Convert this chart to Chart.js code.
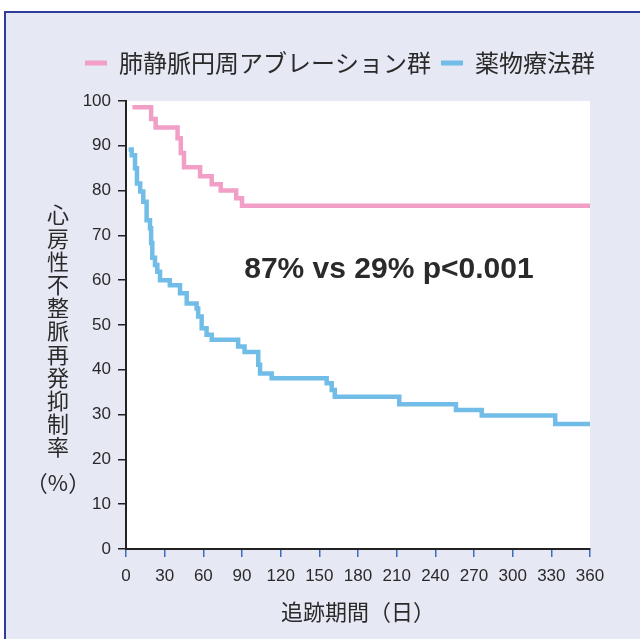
<!DOCTYPE html>
<html><head><meta charset="utf-8">
<script src="https://cdn.jsdelivr.net/npm/chart.js@4.4.0/dist/chart.umd.min.js"></script>
<style>
html,body{margin:0;padding:0;background:#fff;overflow:hidden;width:640px;height:639px;}
#frame{position:absolute;left:4px;top:11px;width:640px;height:640px;background:#e6e8f4;border-top:2px solid #2f3c98;border-left:2px solid #2f3c98;}
#wrap{position:absolute;left:0;top:0;width:640px;height:639px;}
</style></head><body>
<div id="frame"></div>
<div id="wrap"><canvas id="c"></canvas></div>
<script>
// ---- data ----
const seriesNames = ['肺静脈円周アブレーション群', '薬物療法群'];
const pvDays   = [5, 19.5, 23, 40, 42.5, 45, 57.5, 66.5, 73.5, 85.5, 90, 360];
const pvValues = [98.6, 96.0, 94.1, 91.7, 88.4, 85.2, 83.2, 81.4, 80.0, 78.3, 76.6, 76.6];
const drugDays   = [2, 4.4, 7, 8.5, 11, 13.4, 16, 18.6, 19.5, 20.4, 22.5, 24.3, 26.4, 34, 41.9, 47.1, 54.8, 56, 58.7, 62.5, 66.5, 87, 92, 102.6, 104, 113, 155.7, 159.6, 162, 212, 256, 276, 333, 360];
const drugValues = [89.2, 87.9, 85.0, 81.6, 79.8, 77.5, 73.4, 71.6, 68.3, 65.0, 63.4, 61.9, 60.0, 58.9, 57.1, 54.8, 53.7, 51.9, 49.3, 47.8, 46.7, 45.2, 44.0, 41.1, 39.2, 38.1, 37.0, 35.5, 34.0, 32.3, 31.0, 29.8, 27.9, 27.9];
const xTicks = [0, 30, 60, 90, 120, 150, 180, 210, 240, 270, 300, 330, 360];
const yTicks = [0, 10, 20, 30, 40, 50, 60, 70, 80, 90, 100];
const xTitle = '追跡期間（日）';
const yTitleChars = ['心','房','性','不','整','脈','再','発','抑','制','率'];
const yTitleUnit = '（%）';
const annotationText = '87% vs 29% p<0.001';
const annotationAt = {x: 204, y: 62.3};

const PINK = '#f29fc8';
const BLUE = '#72bde8';
const TXT = '#2a2a2a';
const NUMFONT = '"Liberation Sans", Arial, sans-serif';
const JPFONT = '"Noto Sans CJK JP", "Noto Sans", sans-serif';

const toPts = (xs, ys) => xs.map((x, i) => ({x: x, y: ys[i]}));

const plotBg = {
  id: 'plotBg',
  beforeLayout(chart) {
    const lg = chart.legend;
    if (lg && !lg._patched) {
      const orig = lg.fit;
      lg.fit = function () { orig.call(this); this.height = 60; };
      lg._patched = true;
    }
  },
  beforeDraw(chart) {
    const {ctx, chartArea: a} = chart;
    ctx.save();
    ctx.fillStyle = '#ffffff';
    ctx.fillRect(a.left, a.top, a.right - a.left, a.bottom - a.top);
    ctx.restore();
  },
  afterDatasetsDraw(chart) {
    const {ctx, scales} = chart;
    ctx.save();
    ctx.fillStyle = TXT;
    ctx.font = 'bold 30px "Liberation Sans", Arial, sans-serif';
    ctx.textAlign = 'center';
    ctx.textBaseline = 'middle';
    ctx.fillText(annotationText, scales.x.getPixelForValue(annotationAt.x), scales.y.getPixelForValue(annotationAt.y));
    ctx.restore();
  },
  afterDraw(chart) {
    const ctx = chart.ctx;
    ctx.save();
    ctx.fillStyle = TXT;
    ctx.font = '22px ' + JPFONT;
    ctx.textAlign = 'center';
    ctx.textBaseline = 'middle';
    const cx = 58, y0 = 215, step = 23.2;
    yTitleChars.forEach((ch, i) => ctx.fillText(ch, cx, y0 + i * step));
    ctx.fillText(yTitleUnit, cx, y0 + yTitleChars.length * step + 12);
    ctx.restore();
  }
};

new Chart(document.getElementById('c'), {
  type: 'line',
  data: {
    datasets: [
      {label: seriesNames[0], data: toPts(pvDays, pvValues), borderColor: PINK, backgroundColor: PINK,
       borderWidth: 4.5, pointRadius: 0, stepped: 'before', fill: false, xAxisID: 'x', yAxisID: 'y'},
      {label: seriesNames[1], data: toPts(drugDays, drugValues), borderColor: BLUE, backgroundColor: BLUE,
       borderWidth: 4.5, pointRadius: 0, stepped: 'before', fill: false, xAxisID: 'x', yAxisID: 'y'}
    ]
  },
  options: {
    responsive: true,
    maintainAspectRatio: false,
    animation: false,
    layout: {padding: {left: 40, right: 0, top: 41, bottom: 0}},
    plugins: {
      legend: {
        display: true,
        position: 'top',
        labels: {
          boxWidth: 22, boxHeight: 5, padding: 10, color: TXT, font: {family: JPFONT, size: 24},
          generateLabels(chart) {
            const items = Chart.defaults.plugins.legend.labels.generateLabels(chart);
            items.forEach(it => { it.lineWidth = 0; });
            return items;
          }
        }
      },
      tooltip: {enabled: false}
    },
    scales: {
      x: {
        type: 'linear', position: 'bottom', min: 0, max: 360,
        afterBuildTicks(s) { s.ticks = xTicks.map(v => ({value: v})); },
        afterFit(s) { s.height = 90; },
        ticks: {color: TXT, padding: 9, maxRotation: 0, autoSkip: false, font: {family: NUMFONT, size: 17}},
        grid: {display: true, drawOnChartArea: false, drawTicks: true, tickLength: 8, color: '#3a6cc0', lineWidth: 1.5},
        border: {display: true, color: '#222', width: 2},
        title: {display: true, text: xTitle, color: TXT, font: {family: JPFONT, size: 22}, padding: {top: 0, bottom: 14}}
      },
      y: {
        type: 'linear', position: 'left', min: 0, max: 100,
        afterBuildTicks(s) { s.ticks = yTicks.map(v => ({value: v})); },
        afterFit(s) { s.width = 86; },
        ticks: {color: TXT, padding: 7, font: {family: NUMFONT, size: 17}},
        grid: {display: true, drawOnChartArea: false, drawTicks: true, tickLength: 8, color: '#222', lineWidth: 1.5},
        border: {display: true, color: '#222', width: 2}
      },
      r: {
        type: 'linear', position: 'right', display: true,
        afterFit(s) { s.width = 50; },
        ticks: {display: false},
        grid: {display: false},
        border: {display: false}
      }
    }
  },
  plugins: [plotBg]
});
</script>
</body></html>
